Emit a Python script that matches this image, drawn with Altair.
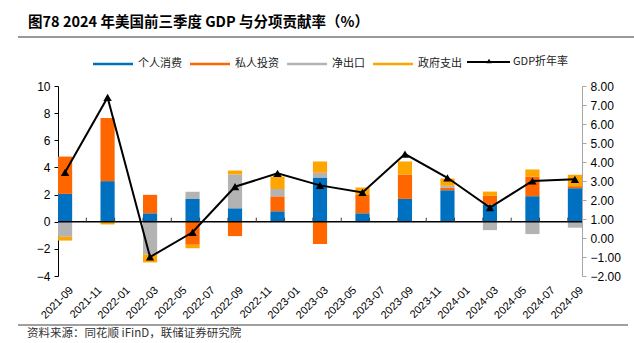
import altair as alt
import pandas as pd

# ---------------- data ----------------
quarters = ["2021-09", "2021-12", "2022-03", "2022-06", "2022-09", "2022-12", "2023-03",
            "2023-06", "2023-09", "2023-12", "2024-03", "2024-06", "2024-09"]
consumption = [2.05, 2.99, 0.62, 1.68, 0.99, 0.77, 3.26, 0.62, 1.68, 2.32, 1.26, 1.88, 2.47]
investment = [2.75, 4.65, 1.36, -1.70, -1.06, 1.10, -1.65, 1.40, 1.80, 0.18, 0.64, 1.45, 0.15]
net_exports = [-1.11, -0.03, -2.42, 0.53, 2.50, 0.54, 0.34, -0.04, 0.00, 0.15, -0.62, -0.91, -0.44]
government = [-0.28, -0.17, -0.58, -0.25, 0.28, 0.91, 0.84, 0.50, 0.96, 0.53, 0.32, 0.52, 0.84]
gdp_rate = [3.46, 7.40, -1.00, 0.30, 2.70, 3.40, 2.77, 2.40, 4.42, 3.17, 1.60, 3.00, 3.09]

series_names = ["个人消费", "私人投资", "净出口", "政府支出"]
series_colors = ["#0070C0", "#FF6600", "#B3B3B3", "#FFA500"]
line_name = "GDP折年率"

tick_labels = ["2021-09", "2021-11", "2022-01", "2022-03", "2022-05", "2022-07", "2022-09",
               "2022-11", "2023-01", "2023-03", "2023-05", "2023-07", "2023-09", "2023-11",
               "2024-01", "2024-03", "2024-05", "2024-07", "2024-09"]
n_months = 37  # monthly slots from 2021-09 to 2024-09

title_text = "图78 2024 年美国前三季度 GDP 与分项贡献率（%）"
source_text = "资料来源：同花顺 iFinD，联储证券研究院"

# ---------------- tables ----------------
def month_index(m):
    y, mo = int(m[:4]), int(m[5:7])
    return (y - 2021) * 12 + (mo - 9)

rows = []
for i, q in enumerate(quarters):
    s = month_index(q)
    pos, neg = 0.0, 0.0
    for k, vals in enumerate([consumption, investment, net_exports, government]):
        v = vals[i]
        if v >= 0:
            y0, y1 = pos, pos + v
            pos = y1
        else:
            y0, y1 = neg, neg + v
            neg = y1
        rows.append({"start": s, "end": s + 1, "series": series_names[k], "idx": k,
                     "y0": y0, "y1": y1})
df_bars = pd.DataFrame(rows)

df_line = pd.DataFrame({"mid": [month_index(q) + 0.5 for q in quarters],
                        "gdp": gdp_rate, "name": [line_name] * len(quarters)})

label_pos = [month_index(t) + 0.5 for t in tick_labels]
df_ticks = pd.DataFrame({"t": [month_index(t) for t in tick_labels[1:]]})
df_one = pd.DataFrame({"k": [0]})
label_expr = "[" + ",".join("'" + t + "'" for t in tick_labels) + "][round((datum.value - 0.5) / 2)]"

FONT = "Liberation Sans"
CJK = "Noto Sans CJK SC"

xscale = alt.Scale(domain=[0, n_months], nice=False, zero=False)
xaxis = alt.Axis(values=label_pos, labelExpr=label_expr, labelAngle=-45,
                 labelAlign="right", labelBaseline="top", labelOffset=2, labelPadding=8,
                 domain=False, ticks=False, grid=False, title=None, labelFlush=False,
                 labelFont=FONT, labelFontSize=11, labelColor="black", labelOverlap=False)

left_scale = alt.Scale(domain=[-4, 10], nice=False, zero=False)
right_scale = alt.Scale(domain=[-2, 8], nice=False, zero=False)

LEG_Y = -24  # legend row centre, relative to plot top

bars = alt.Chart(df_bars).mark_bar().encode(
    x=alt.X("start:Q", scale=xscale, axis=xaxis),
    x2="end:Q",
    y=alt.Y("y0:Q", scale=left_scale,
            axis=alt.Axis(values=list(range(-4, 11, 2)), format="d", grid=False, title=None,
                          domainColor="black", tickColor="black", tickSize=4, labelOverlap=False,
                          labelFont=FONT, labelFontSize=12, labelColor="black", labelPadding=4)),
    y2="y1:Q",
    fill=alt.Fill("series:N", scale=alt.Scale(domain=series_names, range=series_colors),
                  legend=alt.Legend(orient="none", legendX=35, legendY=-42, direction="horizontal",
                                    title=None, symbolType="M-1,-0.065L1,-0.065L1,0.065L-1,0.065Z",
                                    symbolSize=1600, symbolStrokeWidth=0, labelFont=CJK,
                                    labelFontSize=11, labelColor="#222222", labelOffset=5,
                                    columnPadding=8)),
    order=alt.Order("idx:Q"),
)

zero_rule = alt.Chart(df_one).mark_rule(color="black", strokeWidth=1.5).encode(
    y=alt.Y(datum=0, scale=left_scale, axis=None),
)

zero_ticks = alt.Chart(df_ticks).mark_rule(color="#404040", strokeWidth=1).encode(
    x=alt.X("t:Q", scale=xscale, axis=xaxis),
    y=alt.Y(datum=0, scale=left_scale, axis=None),
    y2=alt.datum(0.3),
)

line = alt.Chart(df_line).mark_line(strokeWidth=2, color="black").encode(
    x=alt.X("mid:Q", scale=xscale, axis=xaxis),
    y=alt.Y("gdp:Q", scale=right_scale,
            axis=alt.Axis(orient="right", values=list(range(-2, 9)), format=".2f", grid=False,
                          title=None, domainColor="#A6A6A6", tickColor="#A6A6A6", tickSize=4,
                          labelOverlap=False,
                          labelFont=FONT, labelFontSize=12, labelColor="black", labelPadding=4)),
)

points = alt.Chart(df_line).mark_point(shape="triangle-up", filled=True, size=70,
                                        color="black", opacity=1).encode(
    x=alt.X("mid:Q", scale=xscale, axis=xaxis),
    y=alt.Y("gdp:Q", scale=right_scale, axis=None),
)

# legend entry for the GDP line (line + triangle + label)
leg_line = alt.Chart(df_one).mark_rule(color="black", strokeWidth=2).encode(
    x=alt.value(409), x2=alt.value(452), y=alt.value(LEG_Y))
leg_tri = alt.Chart(df_one).mark_point(shape="triangle-up", filled=True, size=30,
                                       color="black", opacity=1).encode(
    x=alt.value(431), y=alt.value(LEG_Y - 1))
leg_text = alt.Chart(df_one).mark_text(
    text=line_name, align="left", baseline="middle", font=CJK, fontSize=11,
    color="#222222").encode(x=alt.value(455), y=alt.value(LEG_Y))

title_mark = alt.Chart(df_one).mark_text(
    text=title_text, align="left", baseline="middle", font=CJK, fontSize=14.5,
    fontWeight="bold", color="black").encode(x=alt.value(-30), y=alt.value(-63))

top_line = alt.Chart(df_one).mark_rule(color="#999999", strokeWidth=2).encode(
    x=alt.value(-40), x2=alt.value(576), y=alt.value(-49))

bottom_line = alt.Chart(df_one).mark_rule(color="#404040", strokeWidth=1).encode(
    x=alt.value(-40), x2=alt.value(570), y=alt.value(239))

source_mark = alt.Chart(df_one).mark_text(
    text=source_text, align="left", baseline="middle", font=CJK, fontSize=11.5,
    color="#333333").encode(x=alt.value(-31), y=alt.value(248))

chart = alt.layer(bars, zero_rule, zero_ticks, line, points,
                  leg_line, leg_tri, leg_text,
                  title_mark, top_line, bottom_line, source_mark).resolve_scale(
    y="independent").properties(
    width=524, height=190,
    padding={"left": 58, "top": 86, "right": 52, "bottom": 67},
    autosize=alt.AutoSizeParams(type="none"),
    background="white",
).configure_view(stroke=None).configure_axis(labelOverlap=False)

chart.save("out.html", embed_options={"renderer": "svg", "actions": False})
